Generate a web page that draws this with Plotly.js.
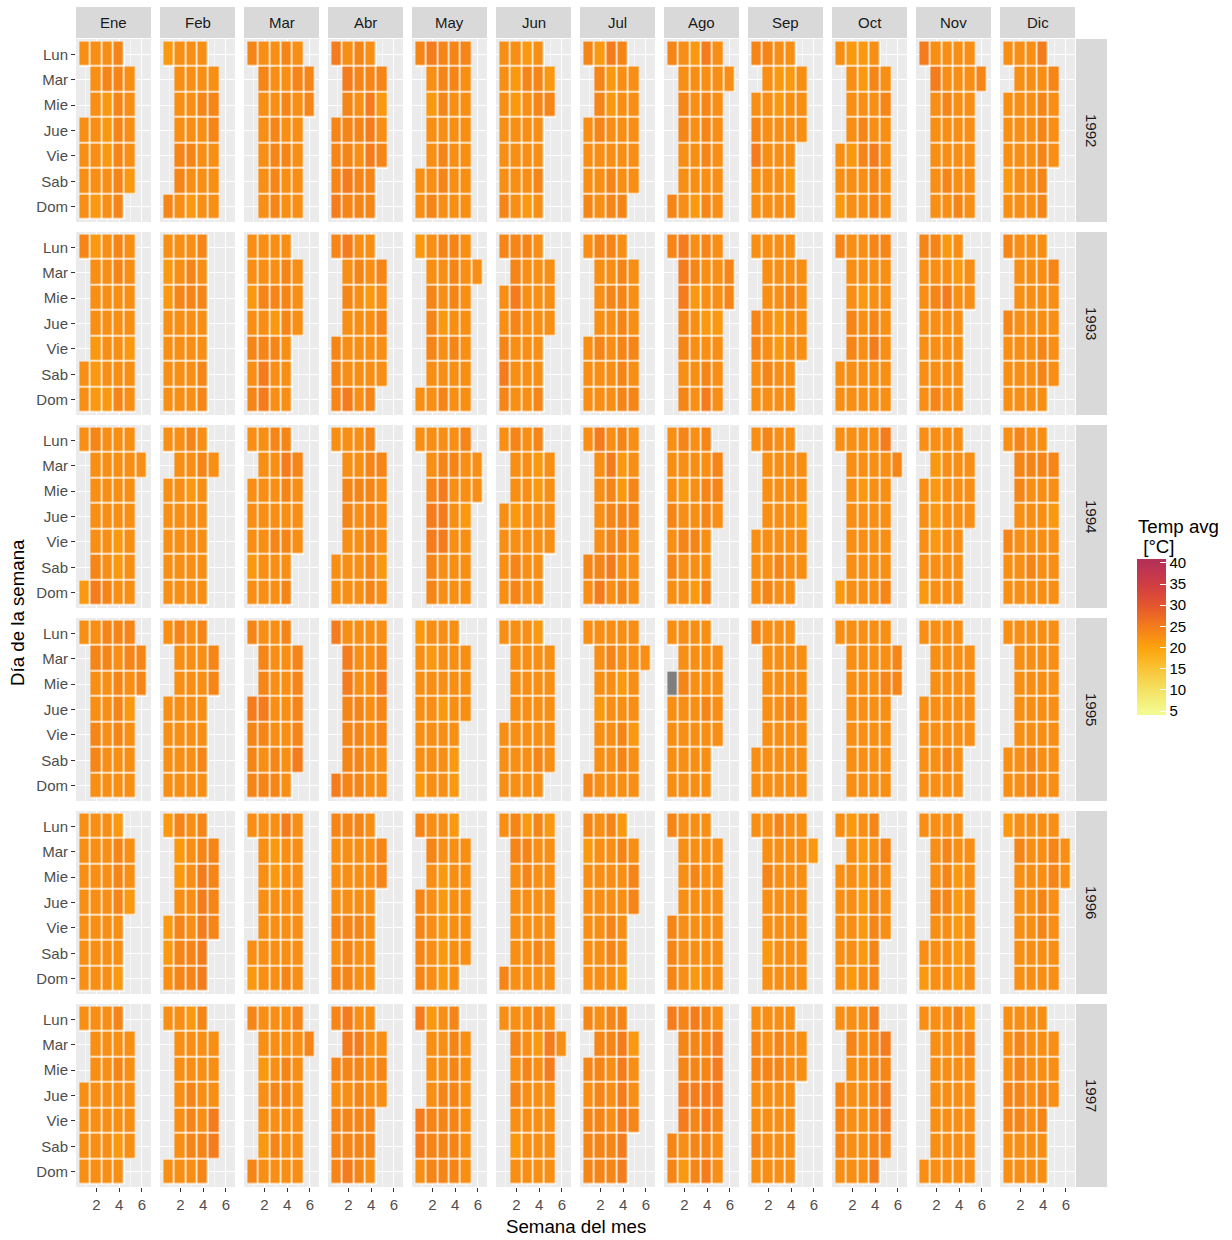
<!DOCTYPE html>
<html>
<head>
<meta charset="utf-8">
<script src="https://cdn.plot.ly/plotly-3.0.1.min.js"></script>
<style>html,body{margin:0;padding:0;background:#ffffff;}</style>
</head>
<body>
<div id="chart" style="width:1232px;height:1240px;"></div>
<script>
// ---------------- DATA ----------------
const years = [1992, 1993, 1994, 1995, 1996, 1997];
const monthLabels = ["Ene", "Feb", "Mar", "Abr", "May", "Jun", "Jul", "Ago", "Sep", "Oct", "Nov", "Dic"];
const dayLabels = ["Lun", "Mar", "Mie", "Jue", "Vie", "Sab", "Dom"];
const weekTicks = [2, 4, 6];
const colorTicks = [5, 10, 15, 20, 25, 30, 35, 40];

// daily average temperature, one letter per day (day 1..end, grouped by week)
// l = lighter, n = usual, m = warmer, d = warmest, x = missing
const tempLevels = { l: 21.4, n: 22.6, m: 23.9, d: 25.0, x: null };

const temp1992 = [
  "nnnnn nnnnnln mlllnnn mmmmmmm nnnnl",
  "ml nnnmmnn nnnmnln nmnnnnn nmmnnn",
  "m mnnnnnn nnmmmmn nmnmnnm mnnnnnn mm",
  "mmmdd dmmmdmn mnmnmmm mdddmmn mlnm",
  "nnm nlnnnmd mmnmmnm mnnnnnm nnnnnnm",
  "nnnnnmn llnnnnn mnnnnll mmnnmnn lm",
  "nnnmm mmmnnnl llnnmmd nnnnnmm nnnnn",
  "mm nmmnnnn nnnnnll nmmmnmd nnnnnnn n",
  "nmdnnm nnnnnnm llnnnnn lnnnlnn nnn",
  "nnln nnnlnnl lnmmnnl mnndmmn nmnnnn",
  "d dnnnnnn nmnnmnn nnnnnmn nnnnnnn m",
  "nnnlnn nnnnnnn nnnnnnn nmmmmmd mnnn"
];
const temp1993 = [
  "nnm nnnllll nnnnnln mnnnnmm nnnlnnn",
  "llnnnnn nmnnnnn mmnnnnn nmnnmmm",
  "nlnmnmn nmnmddn nmlmnnn mmmnnnn nnn",
  "mmmm nmnnndd mnnnnnn nlnnnmn mnmnn",
  "nl nmmmnnn nnlnnmm mmnmnnm nnnnnnn n",
  "nnmdmm mdmnnnm nnnnnnm nnnnnmn nnn",
  "nnnn nnnmnnm nmnnnnm mmmmmmn nnnmnm",
  "m ddmmnmd mlnnnnn nnlnmdm nnlnnnn mm",
  "mmnnn nnnnmnn nnllnnn nmnnnnn nnnn",
  "nnm nnmmnnn nlnnnnn nnmdnnm nnnnnnm",
  "nnnnnnm nmnnnmm ndnnnnl lnnnnnn nn",
  "mnnnm nnnnnnn nnnnnnn nnnmmnn mnnnn"
];
const temp1994 = [
  "ln nnnnmdm nnnnnmn nnnllnn nnnnnnn n",
  "nnnnnn nnnnnnn nlnnnnm mnnnnnn n",
  "nnnlnn nnnnnnn nnnmnnm dmnmnmm mnnn",
  "nnn nmmnnnn nmnnnnn mmmmmmm mnnnln",
  "n nmddmmn mdddnnn mnnnnnn nnlnnnm nn",
  "nnnnn nnlnmmm nnnnnnn llnnnnm nnnn",
  "mnn nnnnmdd dmmmdnn llmmnmm nmmnnnn",
  "nnmnmnn nlnmnnm nnnmnln nmmnnmm mmn",
  "nnnn nnnnnmm nnnnmnn nnnnnnn nnlnn",
  "ln nnnnnnn nlnnnnn nnnnnnn nnnnnmd m",
  "nnnnln llllnnn nnnnnnn nnnnnnn nnn",
  "mnnn mmnnnnm mnnnmnn mnnnnnn mnlnnn"
];
const temp1995 = [
  "n mnnmmnn mnnnnnm nmmmnnm mnlnnnm mm",
  "nnnnn nnnnnnm nnnnnnn nnnnmnm mm",
  "dmmmm mmdmnmn nnnnmmn nnnnnnm mmmmd",
  "dd ddmmmmn nnmmmmn nnnnnnn mdmmnnn",
  "nnnnnll lnnnnnn nnlnnnn nnnnlln nnn",
  "nnnn nnnnnnn nnnnnnn nnnnmnl nnnnn",
  "mn nnlnnnn mnnnnnn nlnmmnn nnnlnnn n",
  "xnnnnn nmnnnnn nnnnnnn nnmnnnn nnnn",
  "nnm nnnnnnn nnnnnnn nnmnnnn nnnnnn",
  "n nnnnnnn nnnnnnn nnnnnnn nmnnnnn mm",
  "nnnnn nnnnnnn nnnnmnn nnnnnnn nnnn",
  "nnn nnnnnnn nnnnmmn nnnnnnn nnnnnnn"
];
const temp1996 = [
  "nnnnnnn nnnnnnn nnnnnnn mmmnnll nnl",
  "llnl llnmmmm nnnnmmn mdddddm mmmm",
  "nln nnnnnnn llnnnnn nnnnnmd nnnnnnn",
  "nnnmnmm nnnmmmm nnnmnnm nnnnnnn mm",
  "mmmmm mnnnnnn nllllln nnnnnnl nnnnn",
  "mn mnnnnnm mmnnnnl nnnnmnm nnnnnnl",
  "lnnnnnm nnnnnnn nnnmmnm mnnnnll nmm",
  "mmmm nnnnnnn nmnnnln nnnnnnn nnnnnn",
  "n nmnnlnn nnnnnnm nnnnnnn nnnnnnn l",
  "nnnnnn nnnnnll lllllnn nmmmmmm mnnn",
  "nln nnmnnnn mmmnnnn nllllln nnnnnn",
  "l mnnnnnn nnnnnnn nnmmnnn mmnnnnn nn"
];
const temp1997 = [
  "nnnnn nnnnnnn nnnnnnn nmnnlnm nnnnn",
  "nn nnnnnnn nnmmmnl nnnnmmm nnndd",
  "mm nlnnlnn nnmnmnn nmmnnnn nnnnnnm m",
  "mnmmmm dmnmmdd dmmmmmn nnnmmnn nmn",
  "ddnd nnnmmml nnmmmmn mmmmmmm nnnnnn",
  "n mnmnlnn nmnnnnn lnnnnnm ddnnnnn n",
  "mnmmmm mmmmmmn mnnnmmm ddddddm lnnm",
  "mmd mmddnlm mmdmmmd mmddmdm dddmnnn",
  "mmnnmnn nmnnnnn mmnnnnn nnnnnnn nn",
  "mmmnn mnnnnnn nnnnnnn mmmmmdd dmddm",
  "nn nnnnnnn nnnnnnn nnnnnnm mnnnnnl",
  "nnmmnnn mmmmnnn nnnnnnn nnmmnnn nnn"
];
const tempByYear = { 1992: temp1992, 1993: temp1993, 1994: temp1994, 1995: temp1995, 1996: temp1996, 1997: temp1997 };

// colour scale anchor colours at the legend's tick values
const scaleValues = [5, 10, 15, 20, 25, 30, 35, 40];
const scaleColors = ["#F3F98E", "#F5E162", "#F9C437", "#FCA30C", "#F47C1C", "#E4552D", "#CF3D44", "#B73157"];

// ---------------- LAYOUT CONSTANTS (pixels) ----------------
const W = 1232, H = 1240;
const panelLeft0 = 76, panelStep = 84, panelW = 75;
const panelTop0 = 39, rowStep = 193, panelH = 183;
const stripTop = 7, stripBottom = 38;
const yearStripL = 1076, yearStripR = 1107;
const FONT = "Liberation Sans, Arial, Helvetica, sans-serif";

// bar slightly longer than 5..40 so the end ticks sit a little inside it
const cMin = 4.1, cMax = 40.9;
const colorscale = [[0, scaleColors[0]]];
scaleValues.forEach((v, i) => colorscale.push([(v - cMin) / (cMax - cMin), scaleColors[i]]));
colorscale.push([1, scaleColors[scaleColors.length - 1]]);

const weeks = [1, 2, 3, 4, 5, 6];
const rows = [1, 2, 3, 4, 5, 6, 7];

function emptyGrid() {
  const g = [];
  for (let r = 0; r < 7; r++) g.push([null, null, null, null, null, null]);
  return g;
}

const traces = [];
const layout = {
  width: W, height: H,
  margin: { l: 0, r: 0, t: 0, b: 0, pad: 0 },
  paper_bgcolor: "#FFFFFF",
  plot_bgcolor: "#EBEBEB",
  font: { family: FONT, size: 15, color: "#1A1A1A" },
  showlegend: false,
  shapes: [],
  annotations: [],
  coloraxis: {
    cmin: cMin, cmax: cMax,
    colorscale: colorscale,
    colorbar: {
      x: 1137 / W, xanchor: "left", xref: "paper",
      y: 1 - 559 / H, yanchor: "top", yref: "paper",
      len: 156, lenmode: "pixels",
      thickness: 29, thicknessmode: "pixels",
      xpad: 0, ypad: 0,
      outlinewidth: 0,
      tickmode: "array", tickvals: colorTicks,
      ticks: "inside", ticklen: 6, tickcolor: "#FFFFFF", tickwidth: 1,
      tickfont: { family: FONT, size: 15, color: "#000000" },
      title: { text: "" }
    }
  }
};

years.forEach((Y, yi) => {
  const top = panelTop0 + yi * rowStep;
  monthLabels.forEach((mLab, mi) => {
    const k = yi * 12 + mi + 1;
    const xa = k === 1 ? "x" : "x" + k;
    const ya = k === 1 ? "y" : "y" + k;
    const left = panelLeft0 + mi * panelStep;

    const zTemp = emptyGrid(), zCell = emptyGrid(), zNA = emptyGrid();
    let hasNA = false;
    const nd = new Date(Date.UTC(Y, mi + 1, 0)).getUTCDate();
    const first = new Date(Date.UTC(Y, mi, 1)).getUTCDay();
    const offset = (first + 6) % 7; // weeks start on Monday
    const s = tempByYear[Y][mi].replace(/ /g, "");
    for (let d = 1; d <= nd; d++) {
      const wd = new Date(Date.UTC(Y, mi, d)).getUTCDay(); // 0 = Sunday -> "Lun" row (as in the source chart)
      const wk = Math.floor((d - 1 + offset) / 7);
      const code = s[d - 1] || "n";
      const v = tempLevels[code];
      zCell[wd][wk] = 1;
      if (v === null || v === undefined) { zNA[wd][wk] = 1; hasNA = true; }
      else zTemp[wd][wk] = v;
    }

    traces.push({
      type: "heatmap", x: weeks, y: rows, z: zCell, xaxis: xa, yaxis: ya,
      colorscale: [[0, "#FFFFFF"], [1, "#FFFFFF"]], zmin: 0, zmax: 1,
      showscale: false, hoverinfo: "skip"
    });
    traces.push({
      type: "heatmap", x: weeks, y: rows, z: zTemp, xaxis: xa, yaxis: ya,
      coloraxis: "coloraxis", xgap: 1.5, ygap: 1.5, hoverinfo: "skip"
    });
    if (hasNA) {
      traces.push({
        type: "heatmap", x: weeks, y: rows, z: zNA, xaxis: xa, yaxis: ya,
        colorscale: [[0, "#7F7F7F"], [1, "#7F7F7F"]], zmin: 0, zmax: 1,
        showscale: false, xgap: 1.5, ygap: 1.5, hoverinfo: "skip"
      });
    }

    const bottomRow = yi === years.length - 1;
    const leftCol = mi === 0;
    layout["xaxis" + (k === 1 ? "" : k)] = {
      domain: [left / W, (left + panelW) / W],
      anchor: ya,
      range: [0.2, 6.8],
      tickmode: "array", tickvals: weekTicks,
      showticklabels: bottomRow,
      ticks: bottomRow ? "outside" : "",
      ticklen: 4, tickwidth: 1.1, tickcolor: "#333333",
      tickfont: { family: FONT, size: 15, color: "#4D4D4D" },
      showgrid: true, gridcolor: "#FFFFFF", gridwidth: 1.1,
      minor: { tickmode: "array", tickvals: [1, 3, 5], ticks: "", showgrid: true, gridcolor: "#FFFFFF", gridwidth: 0.55 },
      zeroline: false, showline: false, fixedrange: true
    };
    layout["yaxis" + (k === 1 ? "" : k)] = {
      domain: [1 - (top + panelH) / H, 1 - top / H],
      anchor: xa,
      range: [7.6, 0.4],
      tickmode: "array", tickvals: rows, ticktext: dayLabels,
      showticklabels: leftCol,
      ticks: leftCol ? "outside" : "",
      ticklen: 4, tickwidth: 1.1, tickcolor: "#333333",
      tickfont: { family: FONT, size: 15, color: "#4D4D4D" },
      showgrid: true, gridcolor: "#FFFFFF", gridwidth: 1.1,
      zeroline: false, showline: false, fixedrange: true
    };
  });
});

// month strips (top)
monthLabels.forEach((mLab, mi) => {
  const left = panelLeft0 + mi * panelStep;
  layout.shapes.push({
    type: "rect", xref: "paper", yref: "paper",
    x0: left / W, x1: (left + panelW) / W,
    y0: 1 - stripBottom / H, y1: 1 - stripTop / H,
    fillcolor: "#D9D9D9", line: { width: 0 }, layer: "below"
  });
  layout.annotations.push({
    xref: "paper", yref: "paper",
    x: (left + panelW / 2) / W, y: 1 - ((stripTop + stripBottom) / 2) / H,
    xanchor: "center", yanchor: "middle", showarrow: false,
    text: mLab, font: { family: FONT, size: 15, color: "#1A1A1A" }
  });
});

// year strips (right)
years.forEach((Y, yi) => {
  const top = panelTop0 + yi * rowStep;
  layout.shapes.push({
    type: "rect", xref: "paper", yref: "paper",
    x0: yearStripL / W, x1: yearStripR / W,
    y0: 1 - (top + panelH) / H, y1: 1 - top / H,
    fillcolor: "#D9D9D9", line: { width: 0 }, layer: "below"
  });
  layout.annotations.push({
    xref: "paper", yref: "paper",
    x: ((yearStripL + yearStripR) / 2) / W, y: 1 - (top + panelH / 2) / H,
    xanchor: "center", yanchor: "middle", showarrow: false, textangle: 90,
    text: String(Y), font: { family: FONT, size: 15, color: "#1A1A1A" }
  });
});

// axis titles
layout.annotations.push({
  xref: "paper", yref: "paper", x: 575.5 / W, y: 1 - 1226 / H,
  xanchor: "center", yanchor: "middle", showarrow: false,
  text: "Semana del mes", font: { family: FONT, size: 18.7, color: "#000000" }
});
layout.annotations.push({
  xref: "paper", yref: "paper", x: 17 / W, y: 1 - 613 / H,
  xanchor: "center", yanchor: "middle", showarrow: false, textangle: -90,
  text: "Día de la semana", font: { family: FONT, size: 18.7, color: "#000000" }
});
// legend title (two lines, as in the reference)
layout.annotations.push({
  xref: "paper", yref: "paper", x: 1136 / W, y: 1 - 526 / H,
  xanchor: "left", yanchor: "middle", showarrow: false, align: "left",
  text: "Temp avg", font: { family: FONT, size: 18.7, color: "#000000" }
});
layout.annotations.push({
  xref: "paper", yref: "paper", x: 1136 / W, y: 1 - 546 / H,
  xanchor: "left", yanchor: "middle", showarrow: false, align: "left",
  text: "\u00A0[°C]", font: { family: FONT, size: 18.7, color: "#000000" }
});

Plotly.newPlot("chart", traces, layout, { staticPlot: true, displayModeBar: false });
</script>
</body>
</html>
